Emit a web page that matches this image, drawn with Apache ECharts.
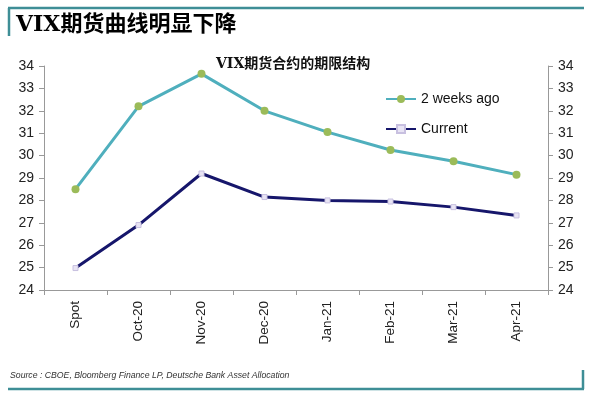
<!DOCTYPE html>
<html><head><meta charset="utf-8">
<script src="https://cdn.jsdelivr.net/npm/echarts@6/dist/echarts.min.js"></script>
<style>html,body{margin:0;padding:0;background:#fff}#c{width:595px;height:398px}</style>
</head><body><div id="c"></div>
<script>
const categories = ['Spot','Oct-20','Nov-20','Dec-20','Jan-21','Feb-21','Mar-21','Apr-21'];
const twoWeeksAgo = [28.5, 32.2, 33.65, 32.0, 31.05, 30.25, 29.75, 29.15];
const current = [24.98, 26.9, 29.2, 28.15, 28.0, 27.95, 27.7, 27.33];
const yTicks = [24,25,26,27,28,29,30,31,32,33,34];
const titleText = 'VIX期货曲线明显下降';
const subTitle = 'VIX期货合约的期限结构';
const sourceText = 'Source : CBOE, Bloomberg Finance LP, Deutsche Bank Asset Allocation';

const chart = echarts.init(document.getElementById('c'));
const axisLabel = {color:'#222', fontSize:14, fontFamily:'Liberation Sans, Arial'};
chart.setOption({
  animation:false,
  graphic:[
    {type:'line', shape:{x1:8,y1:8,x2:584,y2:8}, style:{stroke:'#3E8E96', lineWidth:2.5}},
    {type:'line', shape:{x1:9,y1:8,x2:9,y2:36}, style:{stroke:'#3E8E96', lineWidth:2.5}},
    {type:'line', shape:{x1:8,y1:389,x2:584,y2:389}, style:{stroke:'#3E8E96', lineWidth:2.5}},
    {type:'line', shape:{x1:583,y1:370,x2:583,y2:389}, style:{stroke:'#3E8E96', lineWidth:2.5}},
    {type:'text', left:16, top:14, style:{text:titleText, fill:'#000', font:'bold 22px "DejaVu Serif", "Noto Sans CJK SC"'}},
    {type:'text', left:216, top:57, style:{text:subTitle, fill:'#111', font:'bold 14px "DejaVu Serif", "Noto Sans CJK SC"'}},
    {type:'text', left:10, top:371, style:{text:sourceText, fill:'#333', font:'italic 8.7px "Liberation Sans", Arial'}}
  ],
  legend:{
    orient:'vertical', left:380, top:87, itemGap:16, itemWidth:30, itemHeight:10,
    textStyle:{color:'#111', fontSize:14, fontFamily:'Liberation Sans, Arial'},
    data:[{name:'2 weeks ago'},{name:'Current'}]
  },
  grid:{left:44, right:47, top:66, bottom:108},
  xAxis:{
    type:'category', data:categories, boundaryGap:true,
    axisLine:{lineStyle:{color:'#999'}},
    axisTick:{show:true, lineStyle:{color:'#999'}, length:5},
    axisLabel:{...axisLabel, fontSize:13.5, rotate:90, margin:11}
  },
  yAxis:[
    {type:'value', min:yTicks[0], max:yTicks[yTicks.length-1], interval:1, position:'left',
     axisLine:{show:true, lineStyle:{color:'#999'}}, axisTick:{show:true, length:5, lineStyle:{color:'#999'}},
     splitLine:{show:false}, axisLabel:{...axisLabel, margin:10}},
    {type:'value', min:yTicks[0], max:yTicks[yTicks.length-1], interval:1, position:'right',
     axisLine:{show:true, lineStyle:{color:'#999'}}, axisTick:{show:true, length:5, lineStyle:{color:'#999'}},
     splitLine:{show:false}, axisLabel:{...axisLabel, margin:10}}
  ],
  series:[
    {name:'2 weeks ago', type:'line', data:twoWeeksAgo, symbol:'circle', symbolSize:8,
     lineStyle:{color:'#4FAFBD', width:3}, itemStyle:{color:'#9BBB59'}},
    {name:'Current', type:'line', data:current, symbol:'rect', symbolSize:5,
     lineStyle:{color:'#16166B', width:3}, itemStyle:{color:'#E8E4F4', borderColor:'#C8C0E0', borderWidth:1}}
  ]
});
</script></body></html>
